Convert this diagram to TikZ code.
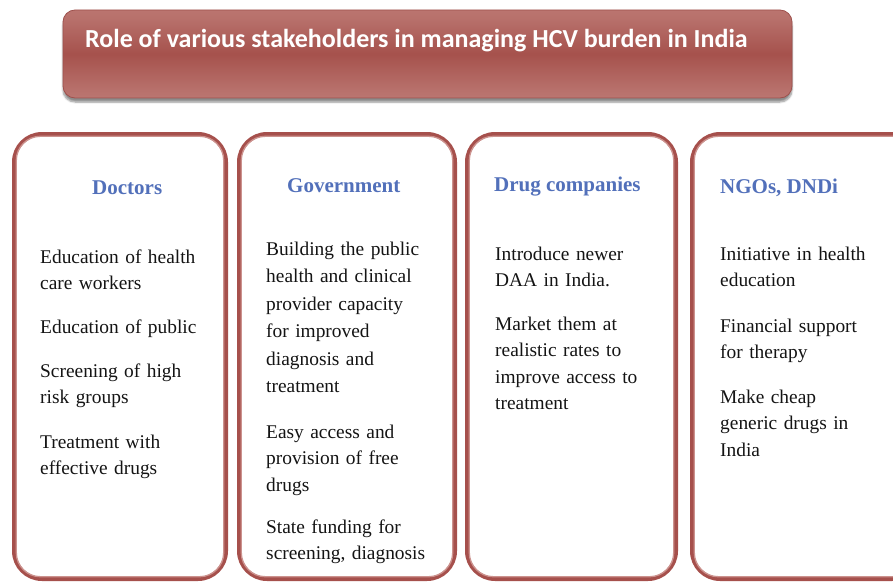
\documentclass[tikz,border=0pt]{standalone}
\usepackage{fontspec}
\setmainfont{Liberation Serif}
\newfontfamily\titlefont{Carlito}
\usetikzlibrary{shadows.blur}

\definecolor{panelred}{RGB}{166,80,76}
\definecolor{panelpink}{RGB}{204,146,142}
\definecolor{headblue}{RGB}{82,112,186}
\definecolor{ink}{RGB}{20,20,20}
\definecolor{bannerline}{RGB}{158,80,76}

% vertical gradient of the title banner: light rim, dark band in the middle
\pgfdeclareverticalshading{bannershade}{100bp}{
  rgb(0bp)=(0.79,0.58,0.56);
  rgb(30bp)=(0.72,0.44,0.42);
  rgb(50bp)=(0.65,0.32,0.30);
  rgb(70bp)=(0.72,0.44,0.42);
  rgb(100bp)=(0.78,0.54,0.52)}

\tikzset{
  banner/.style={rectangle, rounded corners=12pt, inner sep=0pt,
    draw=bannerline, line width=0.8pt, shading=bannershade,
    blur shadow={shadow xshift=0pt, shadow yshift=-4pt, shadow blur steps=6, shadow opacity=45}},
  bannertext/.style={anchor=base west, inner sep=0pt, text=white,
    font=\titlefont\bfseries\fontsize{26}{30}\selectfont},
  panel/.style={rectangle, rounded corners=28pt, inner sep=0pt,
    draw=panelred, line width=4pt, fill=white},
  panelinner/.style={draw=panelpink, line width=1.3pt, rounded corners=24pt},
  head/.style={anchor=base west, inner sep=0pt, text=headblue,
    font=\bfseries\fontsize{21}{25}\selectfont},
  % text width puts the lines in a top-aligned minipage: base = first baseline
  item/.style={anchor=base west, inner sep=0pt, align=left, text=ink,
    text width=190pt, font=\fontsize{19.4}{26.5}\selectfont}
}

\begin{document}
\begin{tikzpicture}[x=1pt, y=-1pt]
  \useasboundingbox (0,0) rectangle (893,583);
  \clip (0,0) rectangle (893,583);

  % title banner
  \node[banner, minimum width=729pt, minimum height=88pt] (title) at (427.5,54) {};
  \node[bannertext] (titletext) at (85,48)
    {Role of various stakeholders in managing HCV burden in India};

  % the four stakeholder panels
  \node[panel, minimum width=212pt, minimum height=445pt] (doc) at (120,356.5) {};
  \node[panel, minimum width=216pt, minimum height=445pt] (gov) at (347,356.5) {};
  \node[panel, minimum width=209pt, minimum height=445pt] (drug) at (571.5,356.5) {};
  \node[panel, minimum width=228pt, minimum height=445pt] (ngo) at (806,356.5) {};

  \foreach \p in {doc,gov,drug,ngo}
    \draw[panelinner] ([xshift=4.3pt,yshift=-4.3pt]\p.north west)
      rectangle ([xshift=-4.3pt,yshift=4.3pt]\p.south east);

  % Doctors
  \node[head] (dochead) at (92,194) {Doctors};
  \node[item] (doc1) at (40,263) {Education of health\\care workers};
  \node[item] (doc2) at (40,333) {Education of public};
  \node[item] (doc3) at (40,377) {Screening of high\\risk groups};
  \node[item] (doc4) at (40,448) {Treatment with\\effective drugs};

  % Government
  \node[head] (govhead) at (287,192) {Government};
  \node[item, font=\fontsize{19.4}{27.5}\selectfont] (gov1) at (266,255)
    {Building the public\\health and clinical\\provider capacity\\for improved\\diagnosis and\\treatment};
  \node[item] (gov2) at (266,438) {Easy access and\\provision of free\\drugs};
  \node[item] (gov3) at (266,533) {State funding for\\screening, diagnosis};

  % Drug companies
  \node[head] (drughead) at (494,191) {Drug companies};
  \node[item] (drug1) at (495,260) {Introduce newer\\DAA in India.};
  \node[item] (drug2) at (495,330) {Market them at\\realistic rates to\\improve access to\\treatment};

  % NGOs, DNDi
  \node[head] (ngohead) at (720,193) {NGOs, DNDi};
  \node[item] (ngo1) at (720,260) {Initiative in health\\education};
  \node[item] (ngo2) at (720,332) {Financial support\\for therapy};
  \node[item] (ngo3) at (720,403) {Make cheap\\generic drugs in\\India};
\end{tikzpicture}
\end{document}
